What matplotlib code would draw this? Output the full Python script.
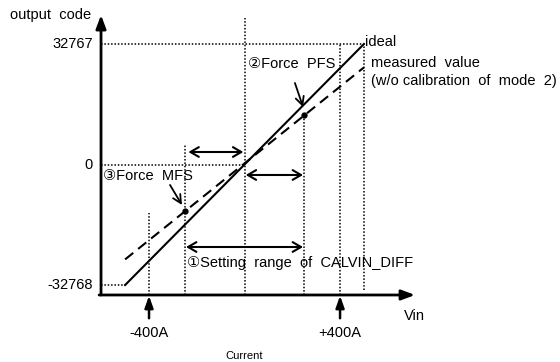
import numpy as np
import matplotlib.pyplot as plt

plt.rcParams['font.family'] = ['Liberation Sans', 'DejaVu Sans']

# data (x: current in A, y: output code)
code_levels = [32767, 0, -32768]
code_labels = ['32767', '0', '-32768']
level_ends = [500, 0, -500]
ideal_x = [-500, 500]
ideal_y = [-32768, 32767]
measured_x = [-500, 500]
measured_y = [-25800, 26400]
force_x = [-250, 250]
force_y = [-12750, 13350]
current_ticks = [-400, 400]
current_labels = ['-400A', '+400A']
vline_x = [-400, -250, 0, 250, 400, 500]
vline_top = [-13200, 5300, 39800, 13400, 32767, 32767]

# figure layout, axes spans the whole figure
x_axis_y = -35480
y_axis_x = -601

fig = plt.figure(figsize=(5.6, 3.62), dpi=100)
ax = fig.add_axes([0, 0, 1, 1])
ax.set_xlim(-1024, 1321)
ax.set_ylim(-53700, 44730)
ax.axis('off')

dot = dict(color='k', lw=1.1, ls=(0, (1, 1.2)))
fs = 10.5

# axes with arrows
ax.annotate('', xy=(y_axis_x, 40650), xytext=(y_axis_x, x_axis_y),
            arrowprops=dict(arrowstyle='-|>,head_length=0.8,head_width=0.3', lw=2, color='k', shrinkA=0, shrinkB=0))
ax.annotate('', xy=(714, x_axis_y), xytext=(y_axis_x - 8, x_axis_y),
            arrowprops=dict(arrowstyle='-|>,head_length=0.8,head_width=0.3', lw=2, color='k', shrinkA=0, shrinkB=0))
ax.text(-643, 40650, 'output  code', ha='right', va='center', fontsize=fs)
ax.text(710, -41300, 'Vin', ha='center', va='center', fontsize=fs)
ax.text(0, -52000, 'Current', ha='center', va='center', fontsize=8)

# code levels
for lv, lab, xe in zip(code_levels, code_labels, level_ends):
    ax.plot([y_axis_x, xe], [lv, lv], **dot)
    ax.text(y_axis_x - 35, lv, lab, ha='right', va='center', fontsize=fs)

# vertical guides
for xv, yt in zip(vline_x, vline_top):
    yb = x_axis_y if xv != 500 else -34100
    ax.plot([xv, xv], [yb, yt], **dot)

# ideal and measured lines
ax.plot(ideal_x, ideal_y, color='k', lw=1.5)
ax.plot(measured_x, measured_y, color='k', lw=1.5, ls=(0, (5, 3)))
ax.plot(force_x, force_y, 'o', color='k', ms=3.5)

ax.text(505, 33300, 'ideal', ha='left', va='center', fontsize=fs)
ax.text(530, 27600, 'measured  value', ha='left', va='center', fontsize=fs)
ax.text(530, 22700, '(w/o calibration  of  mode  2)', ha='left', va='center', fontsize=fs)

# current ticks
for xc, lab in zip(current_ticks, current_labels):
    ax.annotate('', xy=(xc, x_axis_y - 200), xytext=(xc, -41800),
                arrowprops=dict(arrowstyle='-|>,head_length=0.7,head_width=0.25', lw=1.8, color='k', shrinkA=0, shrinkB=0))
    ax.text(xc, -45900, lab, ha='center', va='center', fontsize=fs)

# ranges
dbl = dict(arrowstyle='<->,head_length=0.6,head_width=0.35', lw=1.5, color='k', shrinkA=0, shrinkB=0)
ax.annotate('', xy=(-235, 3400), xytext=(-5, 3400), arrowprops=dbl)
ax.annotate('', xy=(5, -2850), xytext=(245, -2850), arrowprops=dbl)
ax.annotate('', xy=(-245, -22430), xytext=(245, -22430), arrowprops=dbl)
ax.text(-243, -26900, '\u2460Setting  range  of  CALVIN_DIFF', ha='left', va='center', fontsize=fs)

# force annotations
one = dict(arrowstyle='->,head_length=0.6,head_width=0.3', lw=1.3, color='k', shrinkA=0, shrinkB=0)
ax.annotate('', xy=(245, 15630), xytext=(211, 22160), arrowprops=one)
ax.text(14, 27300, '\u2461Force  PFS', ha='left', va='center', fontsize=fs)
ax.annotate('', xy=(-262, -11010), xytext=(-312, -5570), arrowprops=one)
ax.text(-592, -3100, '\u2462Force  MFS', ha='left', va='center', fontsize=fs)

fig.savefig('out.png', dpi=100)
